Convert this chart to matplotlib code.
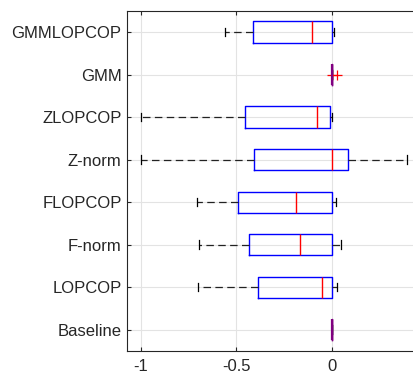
import matplotlib
matplotlib.use("Agg")
import matplotlib.pyplot as plt

plt.rcParams['font.family'] = ['Liberation Sans', 'DejaVu Sans']

# rows from bottom to top
labels = ['Baseline', 'LOPCOP', 'F-norm', 'FLOPCOP', 'Z-norm', 'ZLOPCOP', 'GMM', 'GMMLOPCOP']
whislo = [0.0, -0.701, -0.695, -0.708, -1.0, -1.0, 0.0, -0.561]
q1 = [0.0, -0.385, -0.434, -0.492, -0.406, -0.453, 0.0, -0.411]
med = [0.0, -0.049, -0.166, -0.189, 0.0, -0.076, 0.0, -0.102]
q3 = [0.0, 0.0, 0.0, 0.0, 0.087, -0.007, 0.0, 0.0]
whishi = [0.0, 0.028, 0.047, 0.023, 0.393, 0.0, 0.0, 0.014]
fliers = [[], [], [], [], [], [], [0.003, 0.028], []]

stats = []
for i in range(len(labels)):
    stats.append(dict(label=labels[i], whislo=whislo[i], q1=q1[i], med=med[i],
                      q3=q3[i], whishi=whishi[i], fliers=fliers[i]))

fig = plt.figure(figsize=(4.14, 3.78), dpi=100)
ax = fig.add_axes([0.307, 0.0714, 0.693, 0.9])

ax.grid(True, color='#e3e3e3', linewidth=0.8, zorder=0)
ax.set_axisbelow(True)

res = ax.bxp(stats, vert=False, widths=0.5, capwidths=0.2, patch_artist=False,
             boxprops=dict(color='blue', linewidth=1.0),
             medianprops=dict(color='red', linewidth=1.0),
             whiskerprops=dict(color='#222222', linewidth=0.9, linestyle=(0, (6, 3.5))),
             capprops=dict(color='black', linewidth=0.9),
             flierprops=dict(marker='+', markeredgecolor='red', markersize=7,
                             markeredgewidth=0.9, linestyle='none'))

# collapsed boxes: blue and red overlap -> purple
for i in range(len(labels)):
    if q1[i] == q3[i]:
        res['medians'][i].set_color('#800080')
        res['medians'][i].set_linewidth(1.6)
        res['boxes'][i].set_color('#800080')

ax.set_xlim(-1.073, 0.432)
ax.set_ylim(0.5, len(labels) + 0.5)
ax.set_xticks([-1, -0.5, 0])
ax.set_xticklabels(['-1', '-0.5', '0'])
ax.set_yticks(range(1, len(labels) + 1))
ax.set_yticklabels(labels)

ax.tick_params(direction='in', length=3, width=0.8, colors='#262626', labelsize=12,
               top=True, right=False)
ax.tick_params(axis='x', pad=6)
ax.tick_params(axis='y', pad=4)
for s in ['left', 'bottom', 'top']:
    ax.spines[s].set_color('#262626')
    ax.spines[s].set_linewidth(0.8)
ax.spines['right'].set_visible(False)

fig.savefig('out.png', dpi=100)
